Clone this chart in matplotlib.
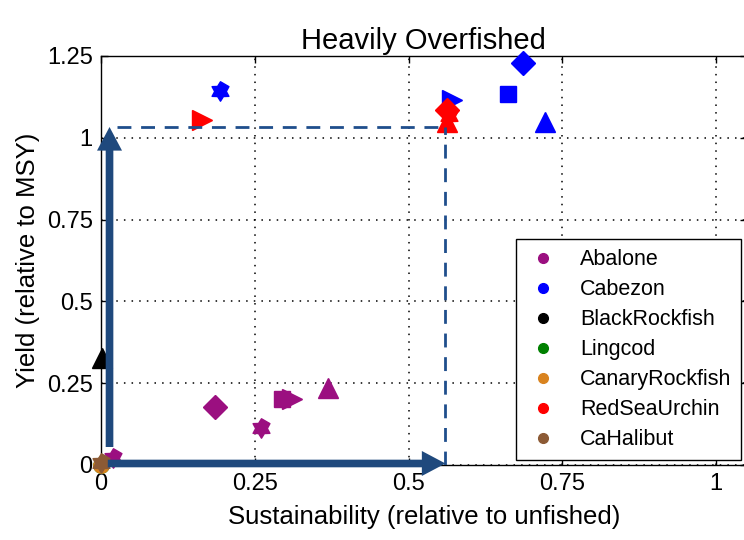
import numpy as np
import matplotlib
matplotlib.use("Agg")
import matplotlib.pyplot as plt
from matplotlib import font_manager
from matplotlib.lines import Line2D
from matplotlib.path import Path

# ── Data ──────────────────────────────────────────────────────────────────────
species = ["Abalone", "Cabezon", "BlackRockfish", "Lingcod",
           "CanaryRockfish", "RedSeaUrchin", "CaHalibut"]
species_colors = ["#9b0f80", "#0000ff", "#000000", "#008000",
                  "#d9831f", "#ff0000", "#8c5a35"]

# (sustainability, yield, marker) for each species
abalone_x = [0.020, 0.185, 0.260, 0.294, 0.310, 0.369]
abalone_y = [0.020, 0.177, 0.113, 0.202, 0.202, 0.235]
abalone_m = ["hex", "D", "hex", "s", ">", "^"]

cabezon_x = [0.193, 0.571, 0.662, 0.686, 0.722]
cabezon_y = [1.143, 1.115, 1.134, 1.229, 1.048]
cabezon_m = ["hex", ">", "s", "D", "^"]

blackrock_x = [0.002]
blackrock_y = [0.327]
blackrock_m = ["^"]

lingcod_x = [0.0]
lingcod_y = [0.0]
lingcod_m = ["o"]

canary_x = [0.0]
canary_y = [0.0]
canary_m = ["o"]

urchin_x = [0.164, 0.563, 0.565, 0.562]
urchin_y = [1.054, 1.085, 1.068, 1.047]
urchin_m = [">", "D", "hex", "^"]

halibut_x = [0.0]
halibut_y = [0.005]
halibut_m = ["hex"]

# reference lines / arrows
ref_x = 0.56
ref_y = 1.033

# ── Style ─────────────────────────────────────────────────────────────────────
names = {f.name for f in font_manager.fontManager.ttflist}
base_font = "Liberation Sans" if "Liberation Sans" in names else "DejaVu Sans"
title_font = "Liberation Sans Narrow" if "Liberation Sans Narrow" in names else base_font
plt.rcParams["font.family"] = [base_font, "DejaVu Sans"]

# six-pointed star (MATLAB 'hexagram')
ang = np.deg2rad(90 + 30 * np.arange(12))
rad = np.where(np.arange(12) % 2 == 0, 1.0, 0.6)
hexagram = Path(np.column_stack([rad * np.cos(ang), rad * np.sin(ang)]), closed=True)

marker_map = {"hex": (hexagram, 14), "D": ("D", 12), "s": ("s", 12),
              ">": (">", 14), "^": ("^", 14), "o": ("o", 11)}

fig = plt.figure(figsize=(7.44, 5.4), dpi=100)
ax = fig.add_axes([0.1358, 0.1389, 0.868, 0.7574])

groups = [
    (abalone_x, abalone_y, abalone_m),
    (cabezon_x, cabezon_y, cabezon_m),
    (blackrock_x, blackrock_y, blackrock_m),
    (lingcod_x, lingcod_y, lingcod_m),
    (canary_x, canary_y, canary_m),
    (urchin_x, urchin_y, urchin_m),
    (halibut_x, halibut_y, halibut_m),
]
for (xs, ys, ms), col in zip(groups, species_colors):
    for x, y, m in zip(xs, ys, ms):
        mk, size = marker_map[m]
        ax.plot(x, y, marker=mk, markersize=size, color=col,
                markeredgecolor=col, linestyle="none", zorder=3,
                clip_on=False)

# dashed guide lines
dash_col = "#1f4e8c"
ax.plot([0.026, ref_x], [ref_y, ref_y], color=dash_col, lw=2,
        dashes=(5, 3.5), zorder=4)
ax.plot([ref_x, ref_x], [0.0, ref_y], color=dash_col, lw=2,
        dashes=(5, 3.5), zorder=4)

# thick arrows
arrow_col = "#1f497d"
style = "simple,head_width=1.8,head_length=1.7,tail_width=0.55"
ax.annotate("", xy=(0.0138, ref_y), xytext=(0.0138, 0.055),
            arrowprops=dict(arrowstyle=style, mutation_scale=10,
                            color=arrow_col, lw=0, shrinkA=0, shrinkB=0),
            zorder=5)
ax.annotate("", xy=(ref_x, 0.0046), xytext=(0.011, 0.0046),
            arrowprops=dict(arrowstyle=style, mutation_scale=10,
                            color=arrow_col, lw=0, shrinkA=0, shrinkB=0),
            zorder=5)

ax.set_xlim(0, 1.05)
ax.set_ylim(0, 1.25)
ax.set_xticks([0, 0.25, 0.5, 0.75, 1])
ax.set_xticklabels(["0", "0.25", "0.5", "0.75", "1"])
ax.set_yticks([0, 0.25, 0.5, 0.75, 1, 1.25])
ax.set_yticklabels(["0", "0.25", "0.5", "0.75", "1", "1.25"])
ax.tick_params(direction="in", length=5, width=1, top=True, right=True,
               labelsize=17, pad=6, colors="black")
ax.grid(True, color="black", linestyle=(0, (1, 4)), linewidth=1.1)
for s in ax.spines.values():
    s.set_linewidth(1)

ax.set_xlabel("Sustainability (relative to unfished)", fontsize=18.5, labelpad=7)
ax.set_ylabel("Yield (relative to MSY)", fontsize=18.5, labelpad=5)
ax.set_title("Heavily Overfished", fontsize=21, family=[title_font, "DejaVu Sans"], pad=5)

handles = [Line2D([], [], marker="o", color=c, linestyle="none", markersize=7)
           for c in species_colors]
leg = ax.legend(handles, species, loc="lower right",
                bbox_to_anchor=(0.991, 0.012), borderaxespad=0,
                fontsize=15.5, frameon=True, fancybox=False,
                edgecolor="black", framealpha=1, handletextpad=0.9,
                labelspacing=0.42, borderpad=0.45, handlelength=1.6)
leg.get_frame().set_linewidth(1)
leg.set_zorder(10)

fig.savefig("out.png", dpi=100)
